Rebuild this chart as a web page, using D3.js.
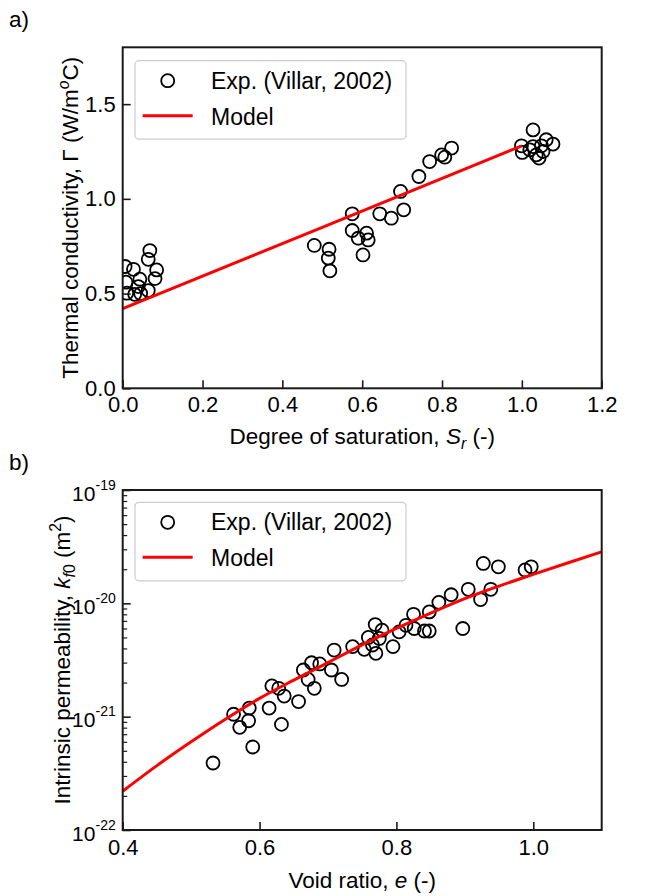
<!DOCTYPE html>
<html>
<head>
<meta charset="utf-8">
<script src="https://cdn.jsdelivr.net/npm/d3@7"></script>
<style>
  body { margin: 0; background: #fff; }
  svg text { font-family: "Liberation Sans", Arial, Helvetica, sans-serif; fill: #000; }
</style>
</head>
<body>
<svg id="fig" width="670" height="896"></svg>
<script>
// ---- (a) Thermal conductivity vs degree of saturation ----
const satSr = [
  0.006, 0.027, 0.068, 0.064, 0.085, 0.081, 0.043, 0.039, 0.064, 0.010, 0.030, 0.045, 0.008,
  0.480, 0.517, 0.515, 0.519, 0.575, 0.575, 0.590, 0.602, 0.611, 0.615, 0.644, 0.673, 0.696,
  0.704, 0.742, 0.769, 0.799, 0.807, 0.824,
  1.028, 0.999, 1.001, 1.028, 1.049, 1.061, 1.078, 1.036, 1.043, 1.053, 1.020
];
const satGamma = [
  0.643, 0.628, 0.727, 0.681, 0.625, 0.579, 0.576, 0.537, 0.516, 0.502, 0.496, 0.500, 0.560,
  0.754, 0.734, 0.687, 0.620, 0.921, 0.833, 0.792, 0.704, 0.819, 0.783, 0.921, 0.898, 1.039,
  0.942, 1.118, 1.197, 1.232, 1.220, 1.268,
  1.364, 1.280, 1.245, 1.276, 1.280, 1.312, 1.289, 1.232, 1.215, 1.250, 1.259
];
const modelSr = [0.0, 0.5, 1.0];
const modelGamma = [0.42, 0.85, 1.28];
const srTicks = [0, 0.2, 0.4, 0.6, 0.8, 1.0, 1.2];
const gammaTicks = [0, 0.5, 1.0, 1.5];

// ---- (b) Intrinsic permeability vs void ratio ----
const voidE = [
  0.532, 0.562, 0.571, 0.585, 0.584, 0.590, 0.614, 0.618, 0.628, 0.636, 0.632, 0.657,
  0.664, 0.671, 0.676, 0.680, 0.688, 0.705, 0.709, 0.720, 0.736, 0.753, 0.759, 0.769,
  0.765, 0.770, 0.775, 0.779, 0.795, 0.804, 0.814, 0.826, 0.825, 0.841, 0.848, 0.848,
  0.862, 0.880, 0.897, 0.905, 0.923, 0.927, 0.938, 0.949, 0.988, 0.997
];
const permK = [
  3.9e-22, 1.05e-21, 8.05e-22, 1.19e-21, 9.2e-22, 5.4e-22, 1.19e-21, 1.87e-21, 1.78e-21, 1.52e-21, 8.55e-22, 1.36e-21,
  2.58e-21, 2.13e-21, 2.99e-21, 1.78e-21, 2.92e-21, 2.58e-21, 3.87e-21, 2.13e-21, 4.15e-21, 3.93e-21, 5.0e-21, 6.5e-21,
  4.29e-21, 3.62e-21, 4.9e-21, 5.8e-21, 4.15e-21, 5.6e-21, 6.4e-21, 6.0e-21, 8.0e-21, 5.7e-21, 5.7e-21, 8.4e-21,
  1.02e-20, 1.19e-20, 6.0e-21, 1.33e-20, 1.08e-20, 2.25e-20, 1.33e-20, 2.1e-20, 1.97e-20, 2.1e-20
];
const modelE = [0.40, 0.45, 0.50, 0.55, 0.60, 0.65, 0.70, 0.75, 0.80, 0.85, 0.90, 0.95, 1.00, 1.05, 1.10];
const modelK = [2.2e-22, 3.7e-22, 6.0e-22, 9.5e-22, 1.45e-21, 2.1e-21, 3.0e-21, 4.3e-21, 6.0e-21, 8.2e-21,
                1.1e-20, 1.42e-20, 1.8e-20, 2.27e-20, 2.85e-20];
const eTicks = [0.4, 0.6, 0.8, 1.0];
const kDecades = [-22, -21, -20, -19];

const legendLabels = ["Exp. (Villar, 2002)", "Model"];

const svg = d3.select("#fig");
const TICK_FS = 22, LABEL_FS = 22.5, LEGEND_FS = 23;
const left = 122.7, right = 601.7;

function frame(g, x0, x1, y0, y1) {
  g.append("rect").attr("x", x0).attr("y", y0).attr("width", x1 - x0).attr("height", y1 - y0)
    .attr("fill", "none").attr("stroke", "#1a1a1a").attr("stroke-width", 2);
}

function styleAxis(sel) {
  sel.select(".domain").remove();
  sel.selectAll(".tick line").attr("stroke", "#1a1a1a").attr("stroke-width", 1.6);
  sel.selectAll(".tick text").attr("font-size", TICK_FS).attr("font-family", null).attr("fill", "#000");
}

function legend(g, x, y) {
  g.append("rect").attr("x", x).attr("y", y).attr("width", 271).attr("height", 78.5)
    .attr("rx", 4).attr("fill", "#fff").attr("fill-opacity", 0.85)
    .attr("stroke", "#cccccc").attr("stroke-width", 1.2);
  g.append("circle").attr("cx", x + 32.7).attr("cy", y + 20).attr("r", 6.5)
    .attr("fill", "none").attr("stroke", "#000").attr("stroke-width", 1.8);
  g.append("line").attr("x1", x + 7.7).attr("x2", x + 57.7).attr("y1", y + 55).attr("y2", y + 55)
    .attr("stroke", "#ff0000").attr("stroke-width", 3);
  g.append("text").attr("x", x + 76).attr("y", y + 28).attr("font-size", LEGEND_FS).text(legendLabels[0]);
  g.append("text").attr("x", x + 76).attr("y", y + 64).attr("font-size", LEGEND_FS).text(legendLabels[1]);
}

// ================= Panel (a) =================
{
  const top = 47.3, bottom = 388.3;
  const x = d3.scaleLinear().domain([0, 1.2]).range([left, right]);
  const y = d3.scaleLinear().domain([0, 1.8]).range([bottom, top]);
  const g = svg.append("g");

  g.append("clipPath").attr("id", "clipA").append("rect")
    .attr("x", left).attr("y", top).attr("width", right - left).attr("height", bottom - top);

  const plot = g.append("g").attr("clip-path", "url(#clipA)");
  plot.selectAll("circle").data(d3.range(satSr.length)).join("circle")
    .attr("cx", i => x(satSr[i])).attr("cy", i => y(satGamma[i])).attr("r", 6.5)
    .attr("fill", "none").attr("stroke", "#000").attr("stroke-width", 1.8);
  plot.append("path")
    .attr("d", d3.line().x(i => x(modelSr[i])).y(i => y(modelGamma[i]))(d3.range(modelSr.length)))
    .attr("fill", "none").attr("stroke", "#ff0000").attr("stroke-width", 3);

  g.append("g").attr("transform", `translate(0,${bottom})`)
    .call(d3.axisBottom(x).tickValues(srTicks).tickFormat(d3.format(".1f")).tickSize(-8).tickPadding(8))
    .call(styleAxis);
  g.append("g").attr("transform", `translate(${left},0)`)
    .call(d3.axisLeft(y).tickValues(gammaTicks).tickFormat(d3.format(".1f")).tickSize(-8).tickPadding(7))
    .call(styleAxis);

  frame(g, left, right, top, bottom);
  legend(g, 135, 60.7);

  // axis titles
  const xl = g.append("text").attr("x", (left + right) / 2).attr("y", 444)
    .attr("text-anchor", "middle").attr("font-size", LABEL_FS);
  xl.append("tspan").text("Degree of saturation, ");
  xl.append("tspan").attr("font-style", "italic").text("S");
  xl.append("tspan").attr("font-style", "italic").attr("font-size", LABEL_FS * 0.7).attr("dy", 5).text("r");
  xl.append("tspan").attr("dy", -5).text(" (-)");

  const yl = g.append("text").attr("transform", `translate(78,${(top + bottom) / 2}) rotate(-90)`)
    .attr("text-anchor", "middle").attr("font-size", LABEL_FS);
  yl.append("tspan").text("Thermal conductivity, Γ (W/m");
  yl.append("tspan").attr("font-style", "italic").attr("font-size", LABEL_FS * 0.7).attr("dy", -9).text("o");
  yl.append("tspan").attr("dy", 9).text("C)");

  g.append("text").attr("x", 9).attr("y", 27).attr("font-size", LABEL_FS).text("a)");
}

// ================= Panel (b) =================
{
  const top = 490, bottom = 830;
  const x = d3.scaleLinear().domain([0.4, 1.1]).range([left, right]);
  const y = d3.scaleLog().domain([1e-22, 1e-19]).range([bottom, top]);
  const g = svg.append("g");

  g.append("clipPath").attr("id", "clipB").append("rect")
    .attr("x", left).attr("y", top).attr("width", right - left).attr("height", bottom - top);

  const plot = g.append("g").attr("clip-path", "url(#clipB)");
  plot.selectAll("circle").data(d3.range(voidE.length)).join("circle")
    .attr("cx", i => x(voidE[i])).attr("cy", i => y(permK[i])).attr("r", 6.5)
    .attr("fill", "none").attr("stroke", "#000").attr("stroke-width", 1.8);
  plot.append("path")
    .attr("d", d3.line().x(i => x(modelE[i])).y(i => y(modelK[i])).curve(d3.curveMonotoneX)(d3.range(modelE.length)))
    .attr("fill", "none").attr("stroke", "#ff0000").attr("stroke-width", 3);

  g.append("g").attr("transform", `translate(0,${bottom})`)
    .call(d3.axisBottom(x).tickValues(eTicks).tickFormat(d3.format(".1f")).tickSize(-8).tickPadding(9))
    .call(styleAxis);

  // minor log ticks
  const minor = [];
  for (let p = -22; p < -19; p++) for (let m = 2; m <= 9; m++) minor.push(m * Math.pow(10, p));
  g.append("g").attr("transform", `translate(${left},0)`)
    .call(d3.axisLeft(y).tickValues(minor).tickFormat("").tickSize(-4.5))
    .call(sel => { sel.select(".domain").remove(); sel.selectAll(".tick line").attr("stroke", "#1a1a1a").attr("stroke-width", 1.2); });

  const majors = kDecades.map(p => Math.pow(10, p));
  const ya = g.append("g").attr("transform", `translate(${left},0)`)
    .call(d3.axisLeft(y).tickValues(majors).tickFormat("").tickSize(-8).tickPadding(7))
    .call(styleAxis);
  ya.selectAll(".tick text").each(function(d, i) {
    const t = d3.select(this).attr("dy", null).attr("y", 10).attr("font-size", 21);
    t.append("tspan").text("10");
    t.append("tspan").attr("font-size", 14).attr("dy", -11).text("-" + (-kDecades[i]));
  });

  frame(g, left, right, top, bottom);
  legend(g, 135, 502.3);

  const xl = g.append("text").attr("x", (left + right) / 2).attr("y", 888)
    .attr("text-anchor", "middle").attr("font-size", LABEL_FS);
  xl.append("tspan").text("Void ratio, ");
  xl.append("tspan").attr("font-style", "italic").text("e");
  xl.append("tspan").text(" (-)");

  const yl = g.append("text").attr("transform", `translate(70,${(top + bottom) / 2}) rotate(-90)`)
    .attr("text-anchor", "middle").attr("font-size", LABEL_FS);
  yl.append("tspan").text("Intrinsic permeability, ");
  yl.append("tspan").attr("font-style", "italic").text("k");
  yl.append("tspan").attr("font-style", "italic").attr("font-size", LABEL_FS * 0.7).attr("dy", 5).text("f");
  yl.append("tspan").attr("font-size", LABEL_FS * 0.7).text("0");
  yl.append("tspan").attr("dy", -5).text(" (m");
  yl.append("tspan").attr("font-size", LABEL_FS * 0.7).attr("dy", -9).text("2");
  yl.append("tspan").attr("dy", 9).text(")");

  g.append("text").attr("x", 9).attr("y", 470).attr("font-size", LABEL_FS).text("b)");
}
</script>
</body>
</html>
